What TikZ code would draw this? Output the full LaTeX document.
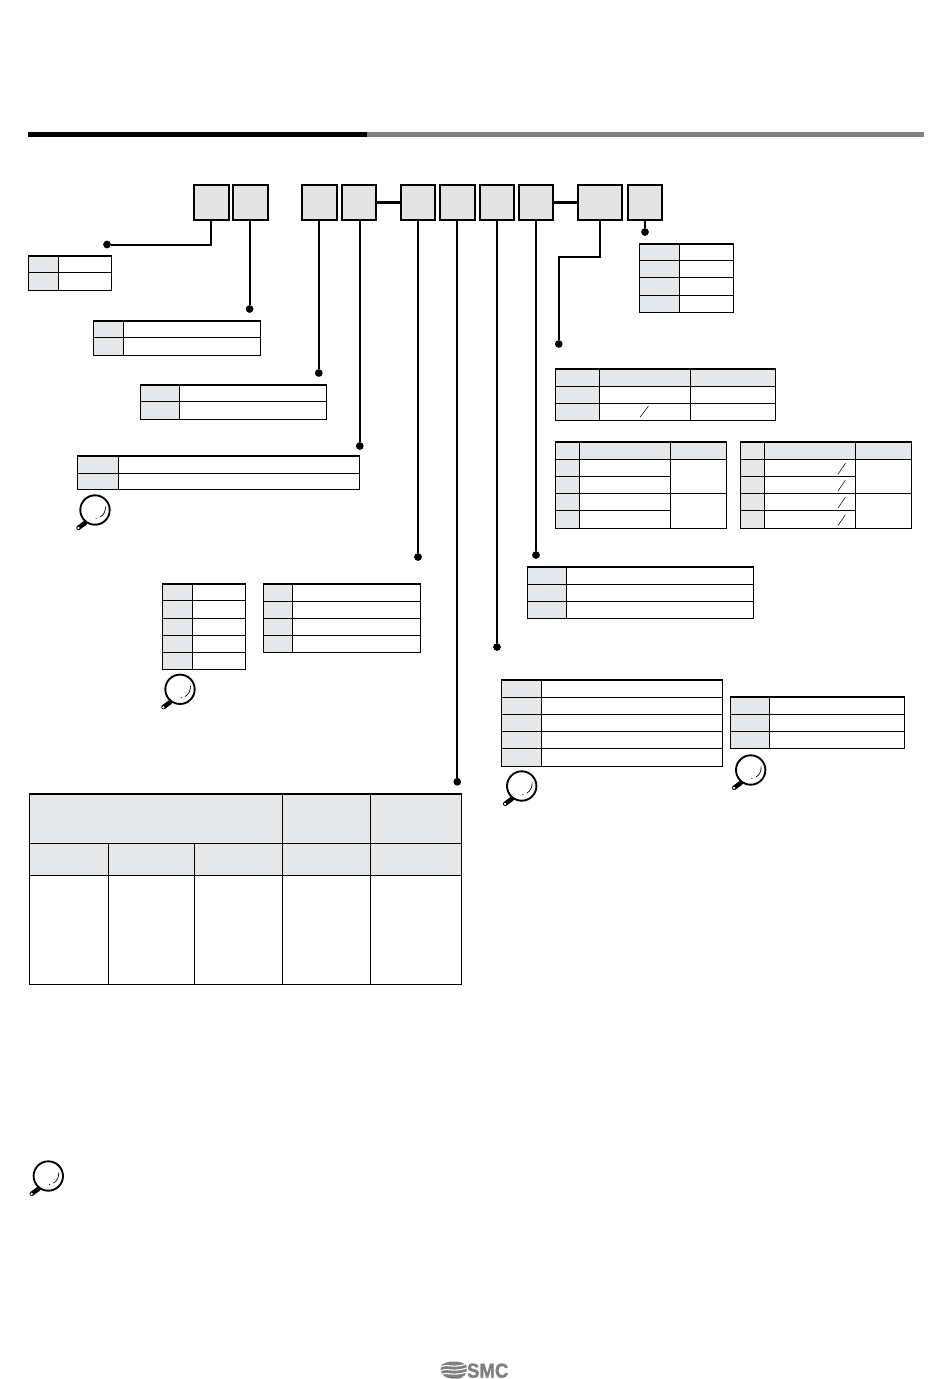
\documentclass[tikz,border=0pt]{standalone}
\usepackage{fontspec}
\setmainfont{Liberation Sans}
\newfontfamily\logofont{Liberation Sans}[FakeStretch=0.93,BoldFeatures={FakeBold=1.5}]
\definecolor{cellgray}{HTML}{E6E7E8}
\definecolor{boxgray}{HTML}{E4E4E4}
\definecolor{barblack}{HTML}{000000}
\definecolor{bargray}{HTML}{808080}
\definecolor{logogray}{HTML}{7F7F7F}
\tikzset{
  x=0.75pt,y=-0.75pt,
  codebox/.style={draw=black,fill=boxgray,line width=1.45pt,minimum height=26.2pt,inner sep=0pt,outer sep=0pt,anchor=center},
  conn/.style={line width=1.5pt,line join=miter,line cap=butt},
  dash link/.style={line width=2pt},
  dotnode/.style={circle,fill=black,draw=none,minimum size=5.8pt,inner sep=0pt,outer sep=0pt},
  gridline/.style={line width=0.8pt,draw=black},
  topline/.style={line width=1.4pt,draw=black},
  slashline/.style={line width=0.4pt,draw=black}
}
% two-column table: x0, col, x1, top, bottom, inner ys
\newcommand{\tabtwo}[6]{%
  \fill[cellgray] (#1,#4) rectangle (#2,#5);
  \draw[gridline] (#1,#4) rectangle (#3,#5);
  \draw[gridline] (#2,#4) -- (#2,#5);
  \foreach \yy in {#6} {\draw[gridline] (#1,\yy) -- (#3,\yy);}
  \draw[topline] (#1,#4) -- (#3,#4);
}
% magnifier icon
\newcommand{\magn}[2]{%
  \begin{scope}[shift={(#1,#2)}]
    \draw[line width=3.4pt,line cap=round,black] (-10,13) -- (-16.5,17.8);
    \draw[line width=2.2pt,black] (-6,11) -- (-10,13);
    \fill[white] (-16.6,17.9) circle (1.3);
    \draw[line width=1.4pt,fill=white] (0,0) circle (14.7);
    \draw[line width=0.5pt] (10.5,-3.5) .. controls (10.5,1) and (9,5) .. (5,7.2);
    \fill[black] (1.2,8.4) circle (0.6);
  \end{scope}
}
\begin{document}
\begin{tikzpicture}
\useasboundingbox (0,0) rectangle (950,1379);
\fill[white] (0,0) rectangle (950,1379);
% header rule
\fill[barblack] (27.5,132) rectangle (367,137);
\fill[bargray] (367,132) rectangle (923.5,137);
% code boxes
\node[codebox,minimum width=26.5pt] (b1) at (211.3,202.2) {};
\node[codebox,minimum width=26.5pt] (b2) at (250.7,202.2) {};
\node[codebox,minimum width=26pt] (b3) at (319.5,202.2) {};
\node[codebox,minimum width=25.5pt] (b4) at (359,202.2) {};
\node[codebox,minimum width=25.5pt] (b5) at (418.2,202.2) {};
\node[codebox,minimum width=26pt] (b6) at (457.3,202.2) {};
\node[codebox,minimum width=26pt] (b7) at (497,202.2) {};
\node[codebox,minimum width=25.5pt] (b8) at (536,202.2) {};
\node[codebox,minimum width=33.5pt] (b9) at (600,202.2) {};
\node[codebox,minimum width=25.5pt] (b10) at (645,202.2) {};
% links between boxes
\draw[dash link] (b4.east) -- (b5.west);
\draw[dash link] (b8.east) -- (b9.west);
% dots
\node[dotnode] (d1) at (107,244.5) {};
\node[dotnode] (d2) at (249.6,309) {};
\node[dotnode] (d3) at (318.8,373) {};
\node[dotnode] (d4) at (359.8,446) {};
\node[dotnode] (d5) at (418,557) {};
\node[dotnode] (d6) at (457.3,781.8) {};
\node[dotnode] (d7) at (497,647) {};
\node[dotnode] (d8) at (536,555) {};
\node[dotnode] (d9) at (558.8,344) {};
\node[dotnode] (d10) at (645,232) {};
\coordinate (k9) at (600,256.8);
% connectors
\draw[conn] (b1.south) |- (d1);
\draw[conn] (b2.south -| d2) -- (d2);
\draw[conn] (b3.south -| d3) -- (d3);
\draw[conn] (b4.south -| d4) -- (d4);
\draw[conn] (b5.south -| d5) -- (d5);
\draw[conn] (b6.south -| d6) -- (d6);
\draw[conn] (b7.south -| d7) -- (d7);
\draw[conn] (b8.south -| d8) -- (d8);
\draw[conn] (b9.south) -- (k9) -| (d9);
\draw[conn] (b10.south) -- (d10);
% two-column tables
\tabtwo{28.5}{58.5}{111.5}{256}{290.3}{272.3}
\tabtwo{93.5}{123.5}{260.7}{321}{355.3}{337.3}
\tabtwo{140.7}{179.7}{326.5}{384.8}{419.5}{401.3}
\tabtwo{77.5}{118.3}{359.4}{456}{489.3}{473.3}
\tabtwo{639.2}{679.3}{733.3}{244}{312.3}{260.3,277.3,295.3}
\tabtwo{162.3}{192.7}{245.7}{584}{669.3}{600.7,618.3,635.3,652.3}
\tabtwo{263.3}{292.3}{420.3}{584}{652.3}{601.3,618.3,635.3}
\tabtwo{527.3}{566.3}{753.3}{566.7}{618.3}{584.3,601.3}
\tabtwo{501.7}{541.7}{722.3}{679.7}{766.3}{697.3,714.3,731.3,748.3}
\tabtwo{730.7}{769.3}{904.3}{696.7}{748.3}{714.3,731.3}
% type table
\fill[cellgray] (555.3,368.7) rectangle (775.7,386.3);
\fill[cellgray] (555.3,368.7) rectangle (599.3,420.3);
\draw[gridline] (555.3,368.7) rectangle (775.7,420.3);
\foreach \yy in {386.3,403.3} {\draw[gridline] (555.3,\yy) -- (775.7,\yy);}
\foreach \xx in {599.3,690.3} {\draw[gridline] (\xx,368.7) -- (\xx,420.3);}
\draw[topline] (555.3,368.7) -- (775.7,368.7);
\draw[slashline] (640,417.3) -- (648.5,406);
% two merged tables
\foreach \xa/\xb/\xc/\xd in {555.3/579.3/670.3/726.3, 740.3/764.3/855.3/911.3} {
  \fill[cellgray] (\xa,442) rectangle (\xd,459.4);
  \fill[cellgray] (\xa,442) rectangle (\xb,528.3);
  \draw[gridline] (\xa,442) rectangle (\xd,528.3);
  \draw[gridline] (\xa,459.4) -- (\xd,459.4);
  \draw[gridline] (\xa,493.4) -- (\xd,493.4);
  \draw[gridline] (\xa,476.4) -- (\xc,476.4);
  \draw[gridline] (\xa,510.4) -- (\xc,510.4);
  \draw[gridline] (\xb,442) -- (\xb,528.3);
  \draw[gridline] (\xc,442) -- (\xc,528.3);
  \draw[topline] (\xa,442) -- (\xd,442);
}
\foreach \yy in {474.2,491,508,525.5} {\draw[slashline] (838,\yy) -- (845.5,\yy-11);}
% large table
\fill[cellgray] (29.7,794) rectangle (461.7,875.3);
\draw[gridline] (29.7,794) rectangle (461.7,984.3);
\draw[gridline] (29.7,843.3) -- (461.7,843.3);
\draw[gridline] (29.7,875.3) -- (461.7,875.3);
\foreach \xx in {108.3,194.3} {\draw[gridline] (\xx,843.3) -- (\xx,984.3);}
\foreach \xx in {282.3,370.3} {\draw[gridline] (\xx,794) -- (\xx,984.3);}
\draw[topline] (29.7,794) -- (461.7,794);
% magnifiers
\magn{95}{510}
\magn{180}{689.3}
\magn{521.7}{786}
\magn{750.7}{770}
\magn{48.3}{1176}
% logo
\begin{scope}
  \clip (441,1366) .. controls (444,1360) and (464,1360) .. (466.5,1366) .. controls (468,1374) and (464,1379) .. (455,1378.6) .. controls (446,1379) and (439,1375) .. (441,1366) -- cycle;
  \fill[logogray] (440,1360) rectangle (468,1380);
  \foreach \yy in {1365.5,1369.5,1373.5} {
    \draw[white,line width=0.8pt] (440,\yy+2) .. controls (446,\yy-3) and (452,\yy+4) .. (468,\yy-2);
  }
\end{scope}
\node[anchor=base west,inner sep=0pt,text=logogray,font=\logofont\bfseries\fontsize{15pt}{15pt}\selectfont] (logo) at (466.8,1377.5) {SMC};
\end{tikzpicture}
\end{document}
